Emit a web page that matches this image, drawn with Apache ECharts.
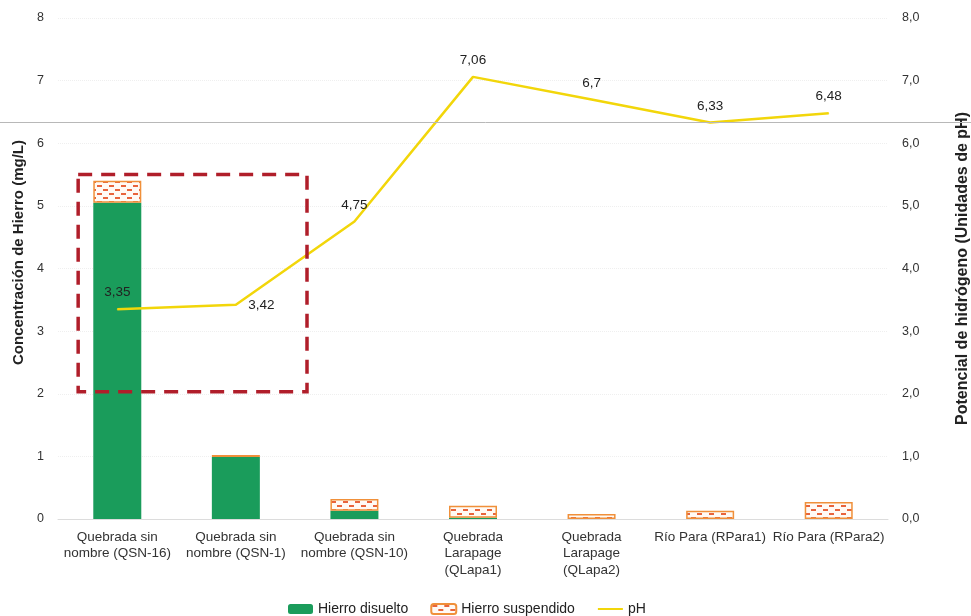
<!DOCTYPE html>
<html>
<head>
<meta charset="utf-8">
<script src="https://cdn.jsdelivr.net/npm/echarts@6/dist/echarts.min.js"></script>
<style>
  html, body { margin: 0; padding: 0; background: #fff; }
  #chart { width: 971px; height: 616px; }
</style>
</head>
<body>
<div id="chart"></div>
<script>
const categories = [
  'Quebrada sin\nnombre (QSN-16)',
  'Quebrada sin\nnombre (QSN-1)',
  'Quebrada sin\nnombre (QSN-10)',
  'Quebrada\nLarapage\n(QLapa1)',
  'Quebrada\nLarapage\n(QLapa2)',
  'Río Para (RPara1)',
  'Río Para (RPara2)'
]
const hierroDisuelto = [5.05, 0.99, 0.13, 0.02, 0, 0, 0]
const hierroSuspendido = [0.35, 0.03, 0.19, 0.19, 0.08, 0.13, 0.27]
const ph = [3.35, 3.42, 4.75, 7.06, 6.7, 6.33, 6.48]
const leftTicks = { min: 0, max: 8, interval: 1 }
const rightTicks = { min: 0, max: 8, interval: 1 }
// highlighted box: value range on the left axis, offsets in category bands
const boxRange = { top: 5.5, bottom: 2.03, fromBand: -0.33, toBand: 1.6 }

const FONT = '"Liberation Sans", Arial, sans-serif'
const GREEN = '#1a9c5b'
const YELLOW = '#f2d60a'

// dotted pattern for suspended iron
function makePattern() {
  const c = document.createElement('canvas')
  c.width = 12
  c.height = 8
  const ctx = c.getContext('2d')
  ctx.fillStyle = '#fffaf5'
  ctx.fillRect(0, 0, 12, 8)
  ctx.fillStyle = '#e8643c'
  ctx.fillRect(1, 1, 5, 2)
  ctx.fillRect(7, 5, 5, 2)
  return c
}
const pattern = { image: makePattern(), repeat: 'repeat' }

const comma = (v) => String(v).replace('.', ',')

const chart = echarts.init(document.getElementById('chart'))

const option = {
  animation: false,
  textStyle: { fontFamily: FONT },
  grid: { left: 58, right: 83, top: 18, bottom: 97, outerBoundsMode: 'none' },
  legend: {
    left: 283,
    top: 597,
    itemWidth: 25,
    itemHeight: 10,
    itemGap: 22,
    textStyle: { fontSize: 14, color: '#222', fontFamily: FONT },
    data: ['Hierro disuelto', 'Hierro suspendido', { name: 'pH', itemStyle: { opacity: 0 } }]
  },
  xAxis: {
    type: 'category',
    data: categories,
    axisTick: { show: false },
    axisLine: { lineStyle: { color: '#dcdcdc' } },
    axisLabel: {
      interval: 0,
      color: '#333',
      fontSize: 13.5,
      lineHeight: 16.5,
      margin: 10
    }
  },
  yAxis: [
    {
      type: 'value',
      ...leftTicks,
      name: 'Concentración de Hierro (mg/L)',
      nameLocation: 'middle',
      nameGap: 32,
      nameTextStyle: { fontWeight: 'bold', fontSize: 15, color: '#222', padding: [0, 0, 0, 32] },
      axisLabel: { color: '#333', fontSize: 12.5, margin: 14 },
      splitLine: { lineStyle: { color: '#efefef', type: 'dotted' } }
    },
    {
      type: 'value',
      ...rightTicks,
      position: 'right',
      name: 'Potencial de hidrógeno (Unidades de pH)',
      nameLocation: 'middle',
      nameGap: 67,
      nameTextStyle: { fontWeight: 'bold', fontSize: 16, color: '#222' },
      axisLabel: { color: '#333', fontSize: 12.5, margin: 14, formatter: (v) => v.toFixed(1).replace('.', ',') },
      splitLine: { show: false }
    }
  ],
  series: [
    {
      name: 'Hierro disuelto',
      type: 'bar',
      stack: 'hierro',
      barWidth: 48,
      itemStyle: { color: GREEN },
      data: hierroDisuelto
    },
    {
      name: 'Hierro suspendido',
      type: 'bar',
      stack: 'hierro',
      barWidth: 48,
      itemStyle: { color: pattern, borderColor: '#f0903a', borderWidth: 1.5 },
      data: hierroSuspendido
    },
    {
      name: 'pH',
      type: 'line',
      yAxisIndex: 1,
      symbol: 'circle',
      symbolSize: 1,
      showSymbol: true,
      z: 5,
      lineStyle: { color: YELLOW, width: 2.5 },
      itemStyle: { color: YELLOW },
      label: {
        show: true,
        position: 'top',
        distance: 9,
        color: '#222',
        fontSize: 13.5,
        formatter: (p) => comma(p.value)
      },
      data: ph.map((v, i) => i === 1
        ? { value: v, label: { position: 'right', distance: 12 } }
        : v)
    }
  ]
}

chart.setOption(option)

// dashed highlight box and the scan's page edge line
const x0 = chart.convertToPixel({ xAxisIndex: 0 }, 0)
const x1 = chart.convertToPixel({ xAxisIndex: 0 }, 1)
const band = x1 - x0
const bx1 = x0 + boxRange.fromBand * band
const bx2 = x0 + boxRange.toBand * band
const by1 = chart.convertToPixel({ yAxisIndex: 0 }, boxRange.top)
const by2 = chart.convertToPixel({ yAxisIndex: 0 }, boxRange.bottom)

chart.setOption({
  graphic: [
    {
      type: 'rect',
      shape: { x: bx1, y: by1, width: bx2 - bx1, height: by2 - by1 },
      style: { fill: 'none', stroke: '#b01e2a', lineWidth: 3.5, lineDash: [14, 9] },
      z: 10
    },
    {
      type: 'line',
      shape: { x1: 0, y1: 122.5, x2: 971, y2: 122.5 },
      style: { stroke: '#b8b8b8', lineWidth: 1 },
      z: 10
    }
  ]
})
</script>
</body>
</html>
